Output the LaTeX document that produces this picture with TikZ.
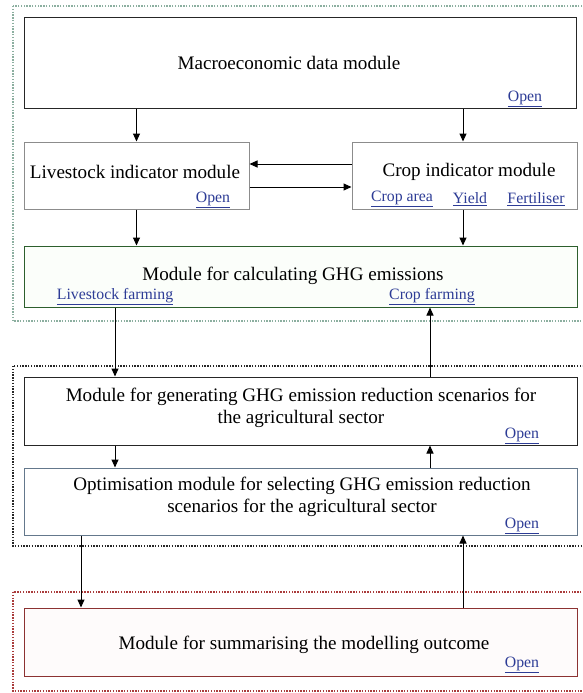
\documentclass[tikz,border=0pt]{standalone}
\usepackage{fontspec}
\setmainfont{Liberation Serif}
\usetikzlibrary{arrows.meta}
\definecolor{dotgreen}{RGB}{140,175,160}
\definecolor{dotred}{RGB}{170,60,60}
\definecolor{ghgcol}{RGB}{45,95,45}
\definecolor{graycol}{RGB}{140,140,140}
\definecolor{optcol}{RGB}{100,120,140}
\definecolor{sumcol}{RGB}{140,50,50}
\definecolor{linkcol}{RGB}{45,60,150}
\definecolor{ghgfill}{RGB}{251,254,250}
\definecolor{sumfill}{RGB}{254,251,251}
\tikzset{
  modbox/.style={draw, line width=1pt, minimum width=#1, inner sep=0pt, anchor=center},
  grpbox/.style={line width=2pt, dash pattern=on 1.4pt off 1.4pt},
  maintext/.style={inner sep=0pt, anchor=center, align=center, font=\fontsize{19.1}{22}\selectfont, text=black},
  linktext/.style={inner sep=0pt, anchor=center, font=\fontsize{15.8}{18}\selectfont, text=linkcol},
  arr/.style={line width=1pt, -{Triangle[length=8pt,width=7pt]}}
}
\begin{document}
\begin{tikzpicture}[x=1pt,y=-1pt]
\useasboundingbox (0,0) rectangle (582,693);
\clip (0,0) rectangle (582,693);
\fill[white] (0,0) rectangle (582,693);
% group frames
\draw[grpbox, draw=dotgreen] (13,6) rectangle (600,321);
\draw[grpbox, draw=black!85] (13,366) rectangle (600,546);
\draw[grpbox, draw=dotred] (13,592) rectangle (600,691);
% boxes
\node[modbox=552pt, minimum height=90pt, draw=black!85] (macro) at (300,63) {};
\node[modbox=225pt, minimum height=67pt, draw=graycol] (lv) at (136.5,175.5) {};
\node[modbox=225pt, minimum height=67pt, draw=graycol] (crop) at (464.5,175.5) {};
\node[modbox=553pt, minimum height=61pt, draw=ghgcol, fill=ghgfill] (ghg) at (300.5,276.5) {};
\node[modbox=553pt, minimum height=68pt, draw=black!85] (gen) at (300.5,411) {};
\node[modbox=553pt, minimum height=67pt, draw=optcol] (opt) at (300.5,501.5) {};
\node[modbox=553pt, minimum height=68pt, draw=sumcol, fill=sumfill] (sum) at (300.5,642) {};
% texts
\node[maintext] (macrot) at (289,63) {Macroeconomic data module};
\node[linktext] (macrol) at (525,99) {\underline{Open}};
\node[maintext] (lvt) at (135,172) {Livestock indicator module};
\node[linktext] (lvl) at (213,200) {\underline{Open}};
\node[maintext] (cropt) at (469,172) {Crop indicator module};
\node[linktext] (cropa) at (402,199) {\underline{Crop area}};
\node[linktext] (cropy) at (470,199) {\underline{Yield}};
\node[linktext] (cropf) at (536,199) {\underline{Fertiliser}};
\node[maintext] (ghgt) at (293,276) {Module for calculating GHG emissions};
\node[linktext] (ghgl1) at (115,297) {\underline{Livestock farming}};
\node[linktext] (ghgl2) at (432,297) {\underline{Crop farming}};
\node[maintext] (gent) at (301,408) {Module for generating GHG emission reduction scenarios for\\the agricultural sector};
\node[linktext] (genl) at (522,436) {\underline{Open}};
\node[maintext] (optt) at (302,496.5) {Optimisation module for selecting GHG emission reduction\\scenarios for the agricultural sector};
\node[linktext] (optl) at (522,526) {\underline{Open}};
\node[maintext] (sumt) at (304,645) {Module for summarising the modelling outcome};
\node[linktext] (suml) at (522,665) {\underline{Open}};
% connector columns
\coordinate (cA) at (115,0);
\coordinate (cB) at (430,0);
\coordinate (cC) at (81,0);
\coordinate (cD) at (463,0);
\coordinate (rU) at (0,164);
\coordinate (rD) at (0,187);
% connectors
\draw[arr] (macro.south -| lv) -- (lv.north);
\draw[arr] (macro.south -| cD) -- (crop.north -| cD);
\draw[arr] (crop.west |- rU) -- (lv.east |- rU);
\draw[arr] (lv.east |- rD) -- (crop.west |- rD);
\draw[arr] (lv.south) -- (ghg.north -| lv);
\draw[arr] (crop.south -| cD) -- (ghg.north -| cD);
\draw[arr] (ghg.south -| cA) -- (gen.north -| cA);
\draw[arr] (gen.north -| cB) -- (ghg.south -| cB);
\draw[arr] (gen.south -| cA) -- (opt.north -| cA);
\draw[arr] (opt.north -| cB) -- (gen.south -| cB);
\draw[arr] (opt.south -| cC) -- (sum.north -| cC);
\draw[arr] (sum.north -| cD) -- (opt.south -| cD);
\end{tikzpicture}
\end{document}
